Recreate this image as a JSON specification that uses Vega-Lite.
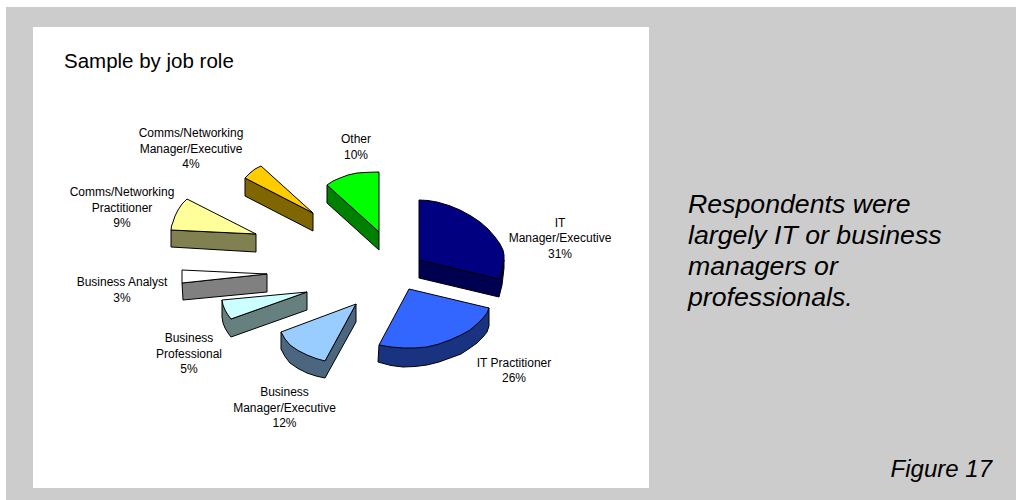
{
  "$schema": "https://vega.github.io/schema/vega-lite/v6.json",
  "autosize": {"type": "fit", "contains": "padding"},
  "width": 1016,
  "height": 500,
  "padding": 0,
  "background": "white",
  "config": {"view": {"stroke": null}},
  "resolve": {"scale": {"fill": "independent"}},
  "datasets": {
    "panels": [
      {"panel": "backdrop", "left": 6, "right": 1016, "top": 7, "bottom": 500},
      {"panel": "chart", "left": 33, "right": 649, "top": 27, "bottom": 488}
    ],
    "outlines": [
      {"part": "IT Manager side", "n": 1, "px": 419, "py": 260},
      {"part": "IT Manager side", "n": 2, "px": 499, "py": 279},
      {"part": "IT Manager side", "n": 3, "px": 504, "py": 260},
      {"part": "IT Manager side", "n": 4, "px": 504, "py": 268},
      {"part": "IT Manager side", "n": 5, "px": 502, "py": 285},
      {"part": "IT Manager side", "n": 6, "px": 499, "py": 297},
      {"part": "IT Manager side", "n": 7, "px": 419, "py": 278},
      {"part": "IT Manager side", "n": 8, "px": 419, "py": 260},
      {"part": "IT Manager top", "n": 1, "px": 419, "py": 200},
      {"part": "IT Manager top", "n": 2, "px": 428, "py": 200.5},
      {"part": "IT Manager top", "n": 3, "px": 437, "py": 202},
      {"part": "IT Manager top", "n": 4, "px": 449, "py": 205.5},
      {"part": "IT Manager top", "n": 5, "px": 460, "py": 210},
      {"part": "IT Manager top", "n": 6, "px": 471, "py": 216},
      {"part": "IT Manager top", "n": 7, "px": 480, "py": 222},
      {"part": "IT Manager top", "n": 8, "px": 488, "py": 229},
      {"part": "IT Manager top", "n": 9, "px": 495, "py": 237},
      {"part": "IT Manager top", "n": 10, "px": 500, "py": 244},
      {"part": "IT Manager top", "n": 11, "px": 503, "py": 250},
      {"part": "IT Manager top", "n": 12, "px": 504, "py": 255},
      {"part": "IT Manager top", "n": 13, "px": 504, "py": 260},
      {"part": "IT Manager top", "n": 14, "px": 502, "py": 270},
      {"part": "IT Manager top", "n": 15, "px": 499, "py": 279},
      {"part": "IT Manager top", "n": 16, "px": 419, "py": 260},
      {"part": "IT Manager top", "n": 17, "px": 419, "py": 200},
      {"part": "IT Practitioner side", "n": 1, "px": 489, "py": 308},
      {"part": "IT Practitioner side", "n": 2, "px": 489, "py": 326},
      {"part": "IT Practitioner side", "n": 3, "px": 487, "py": 332},
      {"part": "IT Practitioner side", "n": 4, "px": 483, "py": 337},
      {"part": "IT Practitioner side", "n": 5, "px": 477, "py": 343},
      {"part": "IT Practitioner side", "n": 6, "px": 470, "py": 348},
      {"part": "IT Practitioner side", "n": 7, "px": 461, "py": 354},
      {"part": "IT Practitioner side", "n": 8, "px": 450, "py": 358},
      {"part": "IT Practitioner side", "n": 9, "px": 439, "py": 362},
      {"part": "IT Practitioner side", "n": 10, "px": 427, "py": 365},
      {"part": "IT Practitioner side", "n": 11, "px": 415, "py": 366.5},
      {"part": "IT Practitioner side", "n": 12, "px": 403, "py": 367},
      {"part": "IT Practitioner side", "n": 13, "px": 391, "py": 365.5},
      {"part": "IT Practitioner side", "n": 14, "px": 378, "py": 362},
      {"part": "IT Practitioner side", "n": 15, "px": 379, "py": 345},
      {"part": "IT Practitioner side", "n": 16, "px": 489, "py": 308},
      {"part": "IT Practitioner top", "n": 1, "px": 409, "py": 289},
      {"part": "IT Practitioner top", "n": 2, "px": 489, "py": 308},
      {"part": "IT Practitioner top", "n": 3, "px": 487, "py": 313},
      {"part": "IT Practitioner top", "n": 4, "px": 483, "py": 318},
      {"part": "IT Practitioner top", "n": 5, "px": 477, "py": 324},
      {"part": "IT Practitioner top", "n": 6, "px": 470, "py": 330},
      {"part": "IT Practitioner top", "n": 7, "px": 461, "py": 335},
      {"part": "IT Practitioner top", "n": 8, "px": 450, "py": 340},
      {"part": "IT Practitioner top", "n": 9, "px": 439, "py": 344},
      {"part": "IT Practitioner top", "n": 10, "px": 427, "py": 347},
      {"part": "IT Practitioner top", "n": 11, "px": 415, "py": 348},
      {"part": "IT Practitioner top", "n": 12, "px": 403, "py": 348},
      {"part": "IT Practitioner top", "n": 13, "px": 391, "py": 347},
      {"part": "IT Practitioner top", "n": 14, "px": 379, "py": 345},
      {"part": "IT Practitioner top", "n": 15, "px": 409, "py": 289},
      {"part": "Business Manager side", "n": 1, "px": 281, "py": 332},
      {"part": "Business Manager side", "n": 2, "px": 281, "py": 349},
      {"part": "Business Manager side", "n": 3, "px": 285, "py": 356.5},
      {"part": "Business Manager side", "n": 4, "px": 290, "py": 363},
      {"part": "Business Manager side", "n": 5, "px": 298, "py": 368.5},
      {"part": "Business Manager side", "n": 6, "px": 307, "py": 373},
      {"part": "Business Manager side", "n": 7, "px": 316, "py": 376},
      {"part": "Business Manager side", "n": 8, "px": 325, "py": 378},
      {"part": "Business Manager side", "n": 9, "px": 356, "py": 322},
      {"part": "Business Manager side", "n": 10, "px": 356, "py": 304},
      {"part": "Business Manager side", "n": 11, "px": 325, "py": 361},
      {"part": "Business Manager side", "n": 12, "px": 281, "py": 332},
      {"part": "Business Manager top", "n": 1, "px": 281, "py": 332},
      {"part": "Business Manager top", "n": 2, "px": 285, "py": 339},
      {"part": "Business Manager top", "n": 3, "px": 290, "py": 345},
      {"part": "Business Manager top", "n": 4, "px": 298, "py": 350.5},
      {"part": "Business Manager top", "n": 5, "px": 307, "py": 355},
      {"part": "Business Manager top", "n": 6, "px": 316, "py": 358.5},
      {"part": "Business Manager top", "n": 7, "px": 325, "py": 361},
      {"part": "Business Manager top", "n": 8, "px": 356, "py": 304},
      {"part": "Business Manager top", "n": 9, "px": 281, "py": 332},
      {"part": "Business Professional side", "n": 1, "px": 222, "py": 300},
      {"part": "Business Professional side", "n": 2, "px": 222, "py": 317},
      {"part": "Business Professional side", "n": 3, "px": 223, "py": 323},
      {"part": "Business Professional side", "n": 4, "px": 225, "py": 328},
      {"part": "Business Professional side", "n": 5, "px": 228, "py": 333},
      {"part": "Business Professional side", "n": 6, "px": 231, "py": 337},
      {"part": "Business Professional side", "n": 7, "px": 307, "py": 310},
      {"part": "Business Professional side", "n": 8, "px": 307, "py": 292},
      {"part": "Business Professional side", "n": 9, "px": 231, "py": 319},
      {"part": "Business Professional side", "n": 10, "px": 222, "py": 300},
      {"part": "Business Professional top", "n": 1, "px": 222, "py": 300},
      {"part": "Business Professional top", "n": 2, "px": 223, "py": 305},
      {"part": "Business Professional top", "n": 3, "px": 225, "py": 310},
      {"part": "Business Professional top", "n": 4, "px": 228, "py": 315},
      {"part": "Business Professional top", "n": 5, "px": 231, "py": 319},
      {"part": "Business Professional top", "n": 6, "px": 307, "py": 292},
      {"part": "Business Professional top", "n": 7, "px": 222, "py": 300},
      {"part": "Business Analyst side", "n": 1, "px": 182, "py": 283},
      {"part": "Business Analyst side", "n": 2, "px": 183, "py": 300},
      {"part": "Business Analyst side", "n": 3, "px": 267, "py": 292},
      {"part": "Business Analyst side", "n": 4, "px": 267, "py": 274},
      {"part": "Business Analyst side", "n": 5, "px": 182, "py": 283},
      {"part": "Business Analyst top", "n": 1, "px": 182, "py": 270},
      {"part": "Business Analyst top", "n": 2, "px": 182, "py": 283},
      {"part": "Business Analyst top", "n": 3, "px": 267, "py": 274},
      {"part": "Business Analyst top", "n": 4, "px": 182, "py": 270},
      {"part": "Comms Practitioner side", "n": 1, "px": 171, "py": 230},
      {"part": "Comms Practitioner side", "n": 2, "px": 171, "py": 247},
      {"part": "Comms Practitioner side", "n": 3, "px": 256, "py": 252},
      {"part": "Comms Practitioner side", "n": 4, "px": 256, "py": 234},
      {"part": "Comms Practitioner side", "n": 5, "px": 171, "py": 230},
      {"part": "Comms Practitioner top", "n": 1, "px": 187, "py": 199},
      {"part": "Comms Practitioner top", "n": 2, "px": 182, "py": 204},
      {"part": "Comms Practitioner top", "n": 3, "px": 178, "py": 210},
      {"part": "Comms Practitioner top", "n": 4, "px": 175, "py": 216},
      {"part": "Comms Practitioner top", "n": 5, "px": 173, "py": 222},
      {"part": "Comms Practitioner top", "n": 6, "px": 171.5, "py": 226},
      {"part": "Comms Practitioner top", "n": 7, "px": 171, "py": 230},
      {"part": "Comms Practitioner top", "n": 8, "px": 256, "py": 234},
      {"part": "Comms Practitioner top", "n": 9, "px": 187, "py": 199},
      {"part": "Comms Manager side", "n": 1, "px": 245, "py": 178},
      {"part": "Comms Manager side", "n": 2, "px": 245, "py": 196},
      {"part": "Comms Manager side", "n": 3, "px": 313, "py": 231},
      {"part": "Comms Manager side", "n": 4, "px": 313, "py": 213},
      {"part": "Comms Manager side", "n": 5, "px": 245, "py": 178},
      {"part": "Comms Manager top", "n": 1, "px": 261, "py": 166},
      {"part": "Comms Manager top", "n": 2, "px": 255, "py": 169},
      {"part": "Comms Manager top", "n": 3, "px": 250, "py": 173},
      {"part": "Comms Manager top", "n": 4, "px": 245, "py": 178},
      {"part": "Comms Manager top", "n": 5, "px": 313, "py": 213},
      {"part": "Comms Manager top", "n": 6, "px": 261, "py": 166},
      {"part": "Other side", "n": 1, "px": 327, "py": 185},
      {"part": "Other side", "n": 2, "px": 327, "py": 203},
      {"part": "Other side", "n": 3, "px": 379, "py": 250},
      {"part": "Other side", "n": 4, "px": 379, "py": 232},
      {"part": "Other side", "n": 5, "px": 327, "py": 185},
      {"part": "Other top", "n": 1, "px": 379, "py": 172},
      {"part": "Other top", "n": 2, "px": 368, "py": 172.3},
      {"part": "Other top", "n": 3, "px": 357, "py": 173},
      {"part": "Other top", "n": 4, "px": 348, "py": 175},
      {"part": "Other top", "n": 5, "px": 340, "py": 178},
      {"part": "Other top", "n": 6, "px": 333, "py": 181},
      {"part": "Other top", "n": 7, "px": 327, "py": 185},
      {"part": "Other top", "n": 8, "px": 379, "py": 232},
      {"part": "Other top", "n": 9, "px": 379, "py": 172}
    ],
    "sliceLabels": [
      {"label": "IT\nManager/Executive\n31%", "px": 560, "py": 222.5},
      {"label": "IT Practitioner\n26%", "px": 514, "py": 362.5},
      {"label": "Business\nManager/Executive\n12%", "px": 284.5, "py": 392},
      {"label": "Business\nProfessional\n5%", "px": 189, "py": 338},
      {"label": "Business Analyst\n3%", "px": 122, "py": 282},
      {"label": "Comms/Networking\nPractitioner\n9%", "px": 122, "py": 192},
      {"label": "Comms/Networking\nManager/Executive\n4%", "px": 191, "py": 133},
      {"label": "Other\n10%", "px": 356, "py": 139}
    ]
  },
  "layer": [
    {
      "data": {"name": "panels"},
      "mark": {"type": "rect"},
      "encoding": {
        "x": {"field": "left", "type": "quantitative", "axis": null, "scale": {"domain": [0, 1016], "nice": false, "zero": false}},
        "x2": {"field": "right"},
        "y": {"field": "top", "type": "quantitative", "axis": null, "scale": {"domain": [500, 0], "nice": false, "zero": false}},
        "y2": {"field": "bottom"},
        "fill": {
          "field": "panel",
          "type": "nominal",
          "legend": null,
          "scale": {"domain": ["backdrop", "chart"], "range": ["#CCCCCC", "#FFFFFF"]}
        }
      }
    },
    {
      "data": {"name": "outlines"},
      "mark": {"type": "line", "stroke": "#000000", "strokeWidth": 1, "strokeJoin": "round", "interpolate": "linear"},
      "encoding": {
        "x": {"field": "px", "type": "quantitative"},
        "y": {"field": "py", "type": "quantitative"},
        "order": {"field": "n", "type": "quantitative"},
        "detail": {"field": "part", "type": "nominal"},
        "fill": {
          "field": "part",
          "type": "nominal",
          "legend": null,
          "scale": {
            "domain": [
              "IT Manager side", "IT Manager top",
              "IT Practitioner side", "IT Practitioner top",
              "Business Manager side", "Business Manager top",
              "Business Professional side", "Business Professional top",
              "Business Analyst side", "Business Analyst top",
              "Comms Practitioner side", "Comms Practitioner top",
              "Comms Manager side", "Comms Manager top",
              "Other side", "Other top"
            ],
            "range": [
              "#000050", "#000080",
              "#1A3380", "#3366FF",
              "#4D6680", "#99CCFF",
              "#668080", "#CCFFFF",
              "#808080", "#FFFFFF",
              "#808050", "#FFFF99",
              "#806600", "#FFCC00",
              "#008000", "#00FF00"
            ]
          }
        }
      }
    },
    {
      "data": {"name": "sliceLabels"},
      "mark": {"type": "text", "font": "Liberation Sans", "fontSize": 12, "lineHeight": 15.5, "lineBreak": "\n", "align": "center", "baseline": "middle", "color": "#000000"},
      "encoding": {
        "x": {"field": "px", "type": "quantitative"},
        "y": {"field": "py", "type": "quantitative"},
        "text": {"field": "label", "type": "nominal"}
      }
    },
    {
      "data": {"values": [{"label": "Sample by job role", "px": 64, "py": 62}]},
      "mark": {"type": "text", "font": "Liberation Sans", "fontSize": 20.5, "align": "left", "baseline": "middle", "color": "#000000"},
      "encoding": {
        "x": {"field": "px", "type": "quantitative"},
        "y": {"field": "py", "type": "quantitative"},
        "text": {"field": "label", "type": "nominal"}
      }
    },
    {
      "data": {"values": [
        {"label": "Respondents were", "px": 688, "py": 205},
        {"label": "largely IT or business", "px": 688, "py": 236},
        {"label": "managers or", "px": 688, "py": 267},
        {"label": "professionals.", "px": 688, "py": 298}
      ]},
      "mark": {"type": "text", "font": "Liberation Sans", "fontStyle": "italic", "fontSize": 26.7, "align": "left", "baseline": "middle", "color": "#000000"},
      "encoding": {
        "x": {"field": "px", "type": "quantitative"},
        "y": {"field": "py", "type": "quantitative"},
        "text": {"field": "label", "type": "nominal"}
      }
    },
    {
      "data": {"values": [{"label": "Figure 17", "px": 992, "py": 470}]},
      "mark": {"type": "text", "font": "Liberation Sans", "fontStyle": "italic", "fontSize": 24, "align": "right", "baseline": "middle", "color": "#000000"},
      "encoding": {
        "x": {"field": "px", "type": "quantitative"},
        "y": {"field": "py", "type": "quantitative"},
        "text": {"field": "label", "type": "nominal"}
      }
    }
  ]
}
